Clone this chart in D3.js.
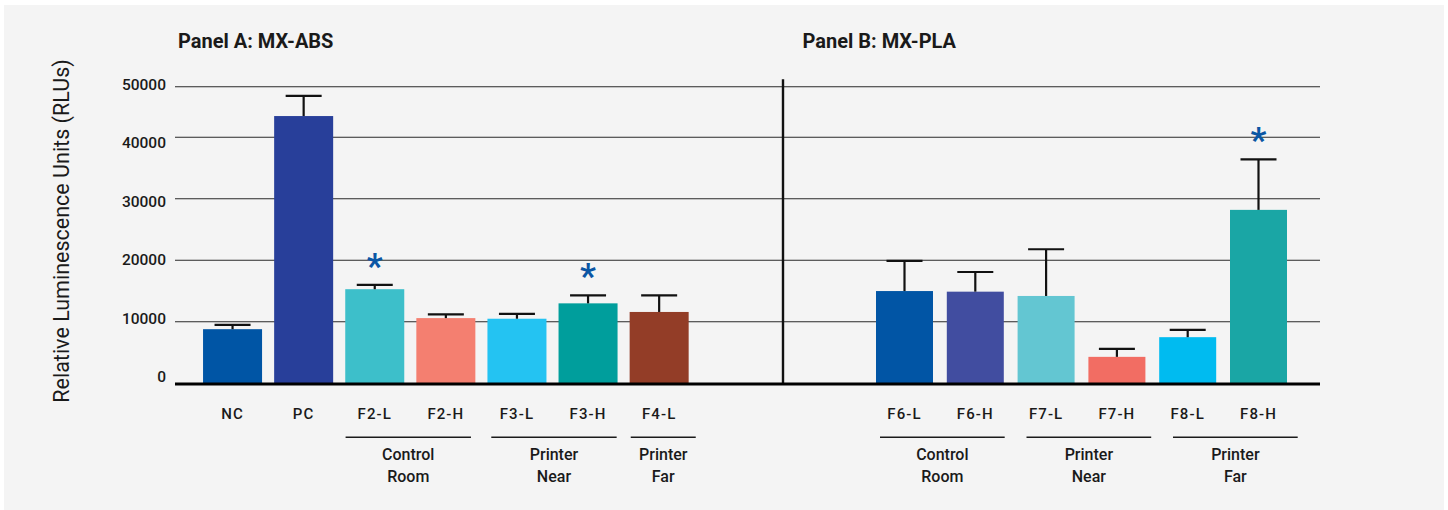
<!DOCTYPE html>
<html>
<head>
<meta charset="utf-8">
<script src="https://cdn.jsdelivr.net/npm/d3@7"></script>
<style>
  html, body { margin: 0; padding: 0; background: #ffffff; }
  svg { display: block; font-family: Roboto, "Noto Sans", "Liberation Sans", sans-serif; }
</style>
</head>
<body>
<svg id="chart" width="1448" height="510"></svg>
<script>
// ---- data -------------------------------------------------------------
const catsA = ["NC", "PC", "F2-L", "F2-H", "F3-L", "F3-H", "F4-L"];
const meanA = [8800, 44200, 15300, 10600, 10500, 13000, 11600];
const sdA   = [700, 4000, 700, 600, 800, 1300, 2700];
const starA = ["F2-L", "F3-H"];

const catsB = ["F6-L", "F6-H", "F7-L", "F7-H", "F8-L", "F8-H"];
const meanB = [15000, 14900, 14200, 4300, 7500, 28200];
const sdB   = [4900, 3200, 7600, 1300, 1200, 8200];
const starB = ["F8-H"];

const groupLabelsA  = [["Control", "Room"], ["Printer", "Near"], ["Printer", "Far"]];
const groupMembersA = [["F2-L", "F2-H"], ["F3-L", "F3-H"], ["F4-L"]];
const groupLabelsB  = [["Control", "Room"], ["Printer", "Near"], ["Printer", "Far"]];
const groupMembersB = [["F6-L", "F6-H"], ["F7-L", "F7-H"], ["F8-L", "F8-H"]];

const tickValues = [0, 10000, 20000, 30000, 40000, 50000];
const tickLabels = ["0", "10000", "20000", "30000", "40000", "50000"];

const titleA = "Panel A: MX-ABS";
const titleB = "Panel B: MX-PLA";
const yTitle = "Relative Luminescence Units (RLUs)";

// ---- styles -----------------------------------------------------------
const paletteA = ["#0055a5", "#283f9a", "#3dbfca", "#f47f70", "#24c3f2", "#009e9c", "#933d27"];
const paletteB = ["#0155a5", "#414da0", "#63c6d2", "#f26d63", "#00bbf0", "#1aa6a5"];
const starColor = "#0b56a4";
const ink = "#1a1a1a";

// ---- layout -----------------------------------------------------------
const svg = d3.select("#chart");

svg.append("rect")
  .attr("x", 4).attr("y", 5)
  .attr("width", 1440).attr("height", 505)
  .attr("fill", "#f4f4f4");

const plotLeft = 175, plotRight = 1320;

// value axis (compressed above 40000)
const y = d3.scaleLinear()
  .domain([0, 40000, 50000])
  .range([383.3, 137.3, 86.7]);

// evenly spread positions for the tick texts
const yLabel = d3.scalePoint()
  .domain(tickLabels)
  .range([376.8, 84.2]);

// bar slots
const xA = d3.scaleBand().domain(catsA).range([197, 694.7]).paddingInner(0.17).paddingOuter(0.085);
const xB = d3.scaleBand().domain(catsB).range([869.1, 1293.9]).paddingInner(0.195).paddingOuter(0.0975);

// slots used for the bracket lines under the category labels
const gA = d3.scaleBand().domain(catsA).range([199.9, 689.5]).paddingInner(0.279).paddingOuter(0);
const gB = d3.scaleBand().domain(catsB).range([880, 1297.7]).paddingInner(0.2976).paddingOuter(0);

// ---- gridlines --------------------------------------------------------
const grid = svg.append("g");
grid.selectAll("line")
  .data(tickValues.filter(v => v > 0))
  .join("line")
  .attr("x1", plotLeft).attr("x2", plotRight)
  .attr("y1", d => y(d)).attr("y2", d => y(d))
  .attr("stroke", "#2a2a2a")
  .attr("stroke-width", 1.1);

// tick labels
svg.append("g")
  .selectAll("text")
  .data(tickLabels)
  .join("text")
  .attr("x", 166)
  .attr("y", d => yLabel(d))
  .attr("dy", "0.36em")
  .attr("text-anchor", "end")
  .attr("font-size", 15.5)
  .attr("font-weight", 500)
  .attr("fill", ink)
  .text(d => d);

// y-axis title
svg.append("text")
  .attr("transform", "translate(69,231) rotate(-90)")
  .attr("text-anchor", "middle")
  .attr("font-size", 21.5)
  .attr("fill", ink)
  .text(yTitle);

// panel titles
svg.append("text")
  .attr("x", 178).attr("y", 48)
  .attr("font-size", 20).attr("font-weight", 700)
  .attr("fill", ink)
  .text(titleA);
svg.append("text")
  .attr("x", 802.5).attr("y", 48)
  .attr("font-size", 20).attr("font-weight", 700)
  .attr("fill", ink)
  .text(titleB);

// ---- panels -----------------------------------------------------------
function drawPanel(cats, means, sds, palette, stars, x, gx, groupLabels, groupMembers) {
  const rows = cats.map((c, i) => ({ cat: c, mean: means[i], sd: sds[i], color: palette[i] }));
  const g = svg.append("g");
  const bw = x.bandwidth();

  g.selectAll("rect.bar")
    .data(rows)
    .join("rect")
    .attr("class", "bar")
    .attr("x", d => x(d.cat))
    .attr("width", bw)
    .attr("y", d => y(d.mean))
    .attr("height", d => y(0) - y(d.mean))
    .attr("fill", d => d.color);

  // error bars (upper whisker only)
  const cap = 36;
  const eb = g.selectAll("g.err").data(rows).join("g").attr("class", "err");
  eb.append("line")
    .attr("x1", d => x(d.cat) + bw / 2).attr("x2", d => x(d.cat) + bw / 2)
    .attr("y1", d => y(d.mean)).attr("y2", d => y(d.mean + d.sd))
    .attr("stroke", "#111").attr("stroke-width", 2.2);
  eb.append("line")
    .attr("x1", d => x(d.cat) + bw / 2 - cap / 2).attr("x2", d => x(d.cat) + bw / 2 + cap / 2)
    .attr("y1", d => y(d.mean + d.sd)).attr("y2", d => y(d.mean + d.sd))
    .attr("stroke", "#111").attr("stroke-width", 2.2);

  // significance markers
  g.selectAll("text.star")
    .data(rows.filter(d => stars.includes(d.cat)))
    .join("text")
    .attr("class", "star")
    .attr("x", d => x(d.cat) + bw / 2)
    .attr("y", d => y(d.mean + d.sd) - 29)
    .attr("dy", "0.62em")
    .attr("text-anchor", "middle")
    .attr("font-size", 35)
    .attr("font-weight", 700)
    .attr("fill", starColor)
    .text("*");

  // category labels
  g.selectAll("text.cat")
    .data(rows)
    .join("text")
    .attr("class", "cat")
    .attr("x", d => x(d.cat) + bw / 2)
    .attr("y", 419)
    .attr("text-anchor", "middle")
    .attr("font-size", 15)
    .attr("font-weight", 500)
    .attr("letter-spacing", 1.1)
    .attr("fill", ink)
    .text(d => d.cat);

  // group brackets and labels
  const groups = groupMembers.map((m, i) => ({
    x1: gx(m[0]),
    x2: gx(m[m.length - 1]) + gx.bandwidth(),
    lines: groupLabels[i]
  }));
  groups.forEach(gr => {
    if (gr.x2 - gr.x1 < 60) { const c = (gr.x1 + gr.x2) / 2; gr.x1 = c - 32.5; gr.x2 = c + 32.5; }
  });
  g.selectAll("line.grp")
    .data(groups)
    .join("line")
    .attr("class", "grp")
    .attr("x1", d => d.x1).attr("x2", d => d.x2)
    .attr("y1", 437.3).attr("y2", 437.3)
    .attr("stroke", ink).attr("stroke-width", 1.4);
  const gl = g.selectAll("text.grp")
    .data(groups)
    .join("text")
    .attr("class", "grp")
    .attr("text-anchor", "middle")
    .attr("font-size", 16)
    .attr("font-weight", 500)
    .attr("fill", ink);
  gl.selectAll("tspan")
    .data(d => d.lines.map(t => ({ t, cx: (d.x1 + d.x2) / 2 })))
    .join("tspan")
    .attr("x", d => d.cx)
    .attr("y", (d, i) => 460 + i * 21.7)
    .text(d => d.t);
}

drawPanel(catsA, meanA, sdA, paletteA, starA, xA, gA, groupLabelsA, groupMembersA);
drawPanel(catsB, meanB, sdB, paletteB, starB, xB, gB, groupLabelsB, groupMembersB);

// panel divider and baseline
svg.append("line")
  .attr("x1", 783).attr("x2", 783)
  .attr("y1", 79.3).attr("y2", y(0) + 1)
  .attr("stroke", "#111").attr("stroke-width", 2.4);

svg.append("line")
  .attr("x1", plotLeft).attr("x2", plotRight)
  .attr("y1", y(0) + 0.8).attr("y2", y(0) + 0.8)
  .attr("stroke", "#000").attr("stroke-width", 3);
</script>
</body>
</html>
